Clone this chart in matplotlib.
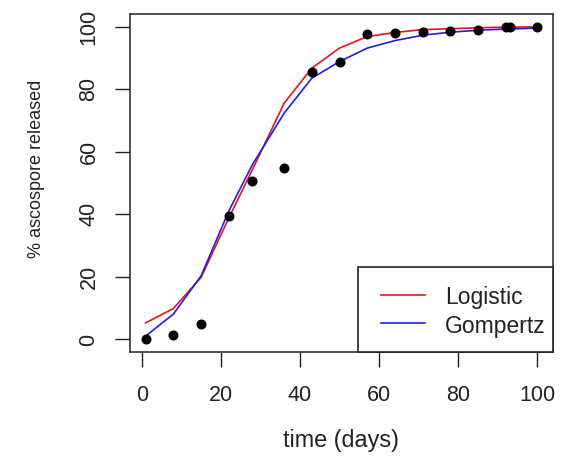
import matplotlib
matplotlib.use("Agg")
import matplotlib.pyplot as plt
from matplotlib.patches import Rectangle

plt.rcParams['font.family'] = ['Liberation Sans', 'DejaVu Sans']

# observed data
days = [1, 8, 15, 22, 28, 36, 43, 50, 57, 64, 71, 78, 85, 92, 93, 100]
released = [0.3, 1.3, 5.0, 39.6, 50.5, 54.7, 85.5, 88.7, 97.6, 98.0, 98.3, 98.7, 99.0, 100.0, 100.0, 100.0]

# fitted curves (values read at the observation days)
logistic = [5.3, 9.9, 19.8, 38.8, 54.3, 75.5, 86.7, 93.1, 96.8, 98.1, 99.0, 99.3, 99.6, 99.8, 99.8, 99.9]
gompertz = [1.1, 8.1, 20.3, 41.0, 55.9, 72.3, 83.5, 88.8, 93.1, 95.5, 97.2, 98.2, 98.8, 99.2, 99.2, 99.5]

series_names = ['Logistic', 'Gompertz']
series_colors = ['#e8141c', '#1e1ee6']

xticks = [0, 20, 40, 60, 80, 100]
yticks = [0, 20, 40, 60, 80, 100]

W, H = 569, 467
AX_L, AX_R, AX_T, AX_B = 130, 553, 14, 352
fig = plt.figure(figsize=(W / 100, H / 100), dpi=100)
ax = fig.add_axes([AX_L / W, 1 - AX_B / H, (AX_R - AX_L) / W, (AX_B - AX_T) / H])

ax.plot(days, logistic, color=series_colors[0], lw=1.2)
ax.plot(days, gompertz, color=series_colors[1], lw=1.2)
ax.plot(days, released, 'o', color='black', ms=6.2, zorder=3)

ax.set_xlim(-2.96, 103.96)
ax.set_ylim(-4, 104)
ax.set_xticks(xticks)
ax.set_yticks(yticks)
ax.set_xticklabels([str(v) for v in xticks], fontsize=15.5)
ax.set_yticklabels([str(v) for v in yticks], fontsize=15.5, rotation=90, va='center')
ax.tick_params(axis='both', length=11, width=1.0, color='#222222', labelcolor='#222222')
ax.tick_params(axis='x', pad=13)
ax.tick_params(axis='y', pad=11)
for s in ax.spines.values():
    s.set_linewidth(1.2)
    s.set_color('#333333')

fig.text(37 / W, 1 - 169 / H, '% ascospore released', rotation=90, ha='center', va='center',
         fontsize=13.0, color='#222222')
fig.text(341 / W, 1 - 441 / H, 'time (days)', ha='center', va='center', fontsize=16.8, color='#222222')

# legend box (R style), positioned in pixel terms of the axes
def fx(px):
    return (px - AX_L) / (AX_R - AX_L)

def fy(py):
    return (AX_B - py) / (AX_B - AX_T)

ax.add_patch(Rectangle((fx(358.3), 0), 1 - fx(358.3), fy(266.7), transform=ax.transAxes,
                       facecolor='white', edgecolor='#222222', lw=1.2, zorder=5, clip_on=False))
line_y = [295, 323.3]
base_y = [304, 332.5]
for name, col, ly, by in zip(series_names, series_colors, line_y, base_y):
    ax.plot([fx(381), fx(425)], [fy(ly), fy(ly)], color=col, lw=1.2, transform=ax.transAxes,
            zorder=6, clip_on=False)
    ax.text(fx(445), fy(by), name, transform=ax.transAxes, ha='left', va='baseline',
            fontsize=16.5, color='#222222', zorder=6)

fig.savefig('out.png', dpi=100)
